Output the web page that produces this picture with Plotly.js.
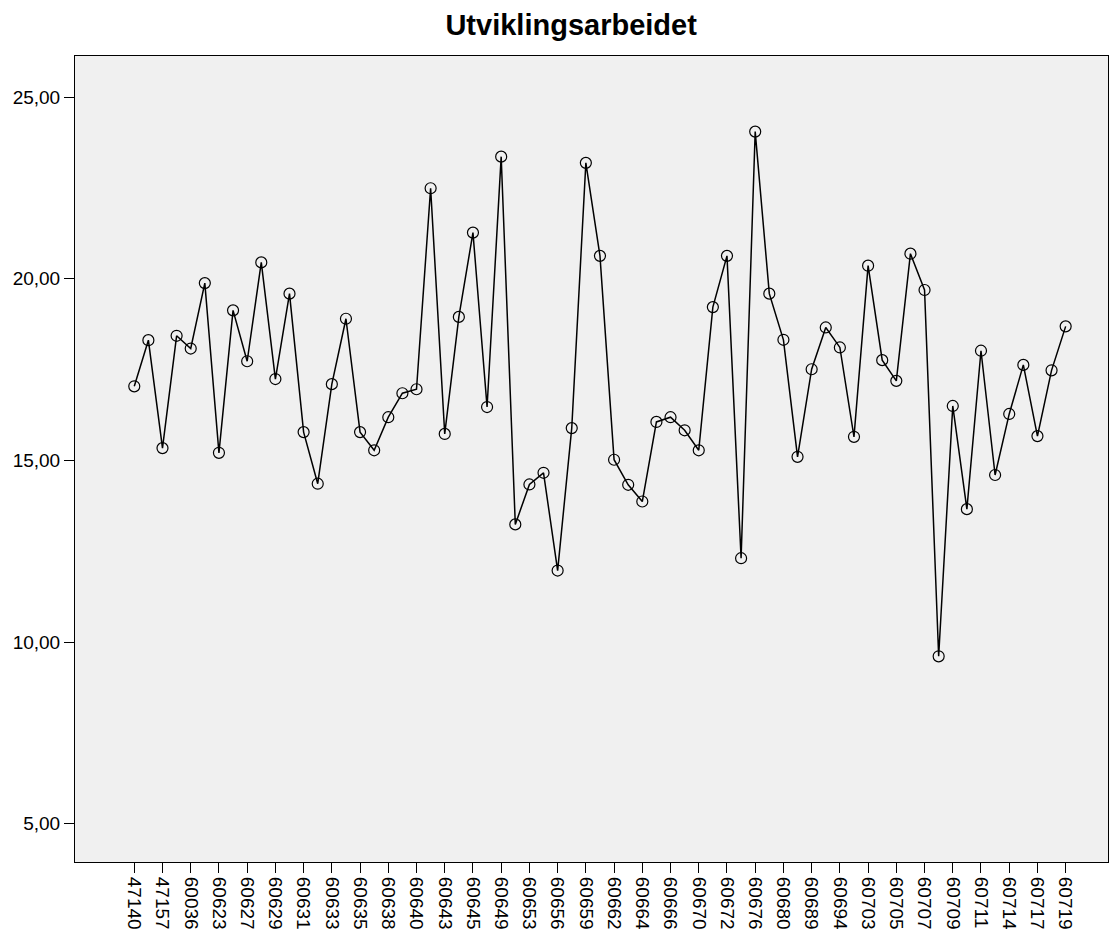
<!DOCTYPE html>
<html>
<head>
<meta charset="utf-8">
<script src="https://cdn.plot.ly/plotly-3.0.1.min.js"></script>
<style>html,body{margin:0;padding:0;background:#fff;}#chart{width:1109px;height:929px;}</style>
</head>
<body>
<div id="chart"></div>
<script>
var tickLabels = ["47140","47157","60036","60623","60627","60629","60631","60633","60635","60638","60640","60643","60645","60649","60653","60656","60659","60662","60664","60666","60670","60672","60676","60680","60689","60694","60703","60705","60707","60709","60711","60714","60717","60719"];
var values = [17.04,18.31,15.34,18.43,18.08,19.88,15.21,19.13,17.73,20.45,17.24,19.59,15.78,14.36,17.10,18.90,15.78,15.28,16.19,16.85,16.96,22.49,15.73,18.95,21.27,16.47,23.36,13.24,14.34,14.66,11.97,15.89,23.19,20.63,15.02,14.33,13.87,16.06,16.19,15.83,15.28,19.22,20.63,12.31,24.05,19.59,18.32,15.10,17.51,18.66,18.11,15.65,20.36,17.76,17.19,20.69,19.69,9.61,16.50,13.66,18.02,14.60,16.28,17.63,15.67,17.48,18.69];
var yTicks = [5,10,15,20,25];

var idx = values.map(function(v,i){return i;});
var tickVals = tickLabels.map(function(t,i){return i*2;});

var trace = {
  x: idx, y: values, type: 'scatter', mode: 'lines+markers',
  line: {color: '#000', width: 1.5},
  marker: {symbol: 'circle-open', size: 11, color: '#000', line: {color: '#000', width: 1.2}},
  hoverinfo: 'y'
};
var layout = {
  width: 1109, height: 929,
  margin: {l: 75, r: 1, t: 56, b: 67},
  paper_bgcolor: '#ffffff', plot_bgcolor: '#f0f0f0',
  separators: ',.',
  font: {family: 'Liberation Sans, Arial, sans-serif', color: '#000', size: 19},
  title: {text: '<b>Utviklingsarbeidet</b>', x: 0.515, xref: 'container', y: 0.973, yref: 'container', xanchor: 'center', yanchor: 'middle',
          font: {family: 'Liberation Sans, Arial, sans-serif', size: 29, color: '#000'}},
  showlegend: false,
  xaxis: {
    range: [-4.2, 69.0], showgrid: false, zeroline: false,
    showline: true, mirror: true, linecolor: '#000', linewidth: 1,
    ticks: 'outside', ticklen: 10, tickcolor: '#000', tickwidth: 1,
    tickmode: 'array', tickvals: tickVals, ticktext: tickLabels, tickangle: 90,
    tickfont: {size: 19, color: '#000'}
  },
  yaxis: {
    range: [3.95, 26.13], showgrid: false, zeroline: false,
    showline: true, mirror: true, linecolor: '#000', linewidth: 1,
    ticks: 'outside', ticklen: 10, tickcolor: '#000', tickwidth: 1,
    tickmode: 'array', tickvals: yTicks, tickformat: '.2f',
    tickfont: {size: 19, color: '#000'}
  }
};
Plotly.newPlot('chart', [trace], layout, {displayModeBar: false, staticPlot: true});
</script>
</body>
</html>
